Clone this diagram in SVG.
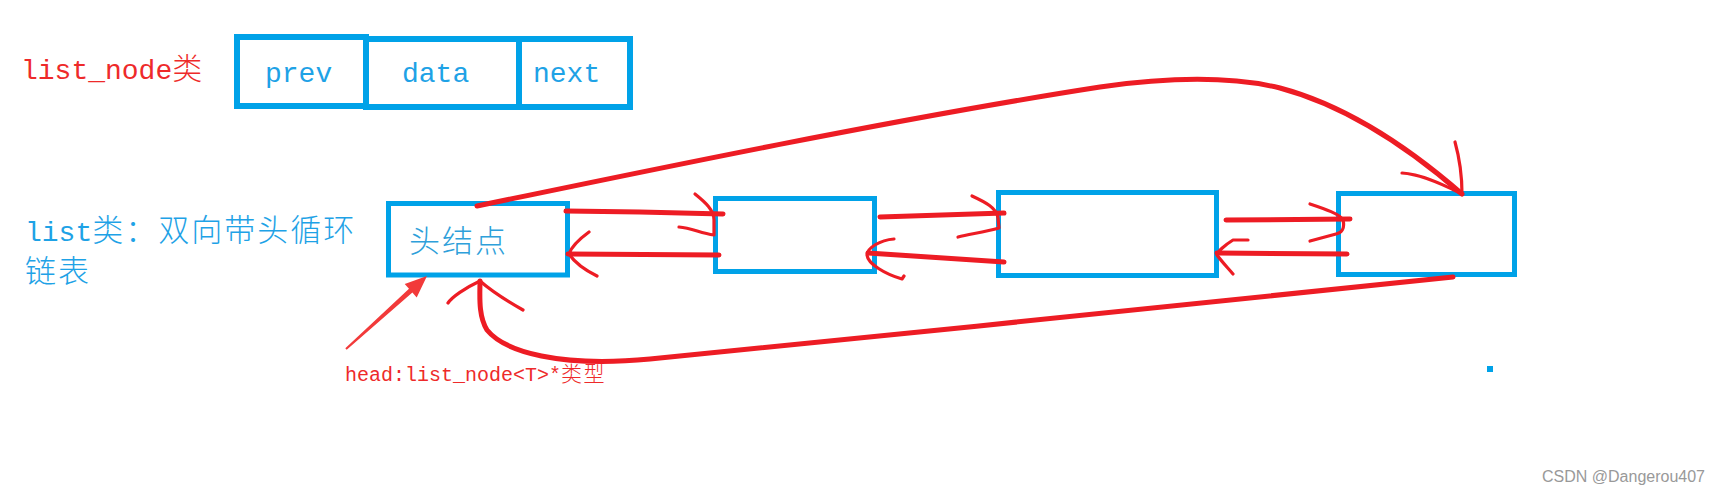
<svg xmlns="http://www.w3.org/2000/svg" width="1719" height="495" viewBox="0 0 1719 495">
<style>
.box{fill:none;stroke:#00A2E8;stroke-width:5}
.cell{fill:none;stroke:#00A2E8;stroke-width:6}
.ln{fill:none;stroke:#ED1C24;stroke-width:5;stroke-linecap:round;stroke-linejoin:round}
.barb{fill:none;stroke:#ED1C24;stroke-width:3.2;stroke-linecap:round;stroke-linejoin:round}
.mono{font-family:"Liberation Mono","DejaVu Sans Mono",monospace}
.cjk{font-family:"Noto Sans CJK SC","Noto Sans",sans-serif;font-weight:300}
.red{fill:#EE2A2A}
.blue{fill:#1EA2E6}
.wm{font-family:"Liberation Sans",Arial,sans-serif;font-size:16px;fill:#999999}
</style>
<rect width="1719" height="495" fill="#ffffff"/>

<g id="list_node_label">
<text x="21" y="79" class="red"><tspan class="mono" font-size="28">list_node</tspan><tspan class="cjk" font-size="30">类</tspan></text>
</g>

<g id="list_node_struct">
<rect class="cell" x="237" y="37" width="129" height="69"/>
<rect class="cell" x="366" y="39" width="264" height="68"/>
<line class="cell" x1="519" y1="39" x2="519" y2="107"/>
<text class="mono blue" font-size="28" x="265" y="82">prev</text>
<text class="mono blue" font-size="28" x="402" y="82">data</text>
<text class="mono blue" font-size="28" x="533" y="82">next</text>
</g>

<g id="list_label">
<text x="25" y="241" class="blue"><tspan class="mono" font-size="28">list</tspan><tspan class="cjk" font-size="31" letter-spacing="2">类：双向带头循环</tspan></text>
<text x="25" y="282" class="blue cjk" font-size="31" letter-spacing="2">链表</text>
</g>

<g id="head_node">
<rect class="box" x="388.5" y="203.5" width="179" height="71.5"/>
<text x="409" y="252" class="cjk" font-size="31" letter-spacing="2" fill="#2E9FDA">头结点</text>
</g>

<g id="node2">
<rect class="box" x="715.5" y="198.5" width="159" height="73"/>
</g>

<g id="node3">
<rect class="box" x="998.5" y="192.5" width="218" height="83"/>
</g>

<g id="node4">
<rect class="box" x="1338.5" y="193.5" width="176" height="81"/>
</g>

<g id="head_pointer">
<polygon fill="#F23A3A" points="345.3,348.3 409,288.8 404.7,284 427,276 416.7,297.4 412.4,292.6 346.7,349.7"/>
<text x="345" y="381" class="red"><tspan class="mono" font-size="20">head:list_node&lt;T&gt;*</tspan><tspan class="cjk" font-size="21" letter-spacing="1.5">类型</tspan></text>
</g>

<g id="connectors">
<!-- head <-> node2 -->
<path class="ln" d="M566 211 L640 212 L723 214"/>
<path class="barb" d="M695 194 C705 202 714 210 714 220 L714 235 M679 227 C692 228 700 233 714 235"/>
<path class="ln" d="M719 255 L568 254"/>
<path class="barb" d="M589 232 C578 240 571 248 569 254 C575 263 585 270 597 276"/>
<!-- node2 <-> node3 -->
<path class="ln" d="M880 217 L1004 213"/>
<path class="barb" d="M972 196 C985 202 997 208 998 218 L999 228 C985 232 970 234 958 237"/>
<path class="ln" d="M1004 262 L868 253"/>
<path class="barb" d="M894 239 C880 240 867 248 867 255 C868 264 885 274 902 279 L904 276"/>
<!-- node3 <-> node4 -->
<path class="ln" d="M1226 220 L1350 219"/>
<path class="barb" d="M1310 204 C1325 209 1340 214 1343 220 C1345 228 1342 233 1336 234 L1310 241"/>
<path class="ln" d="M1347 254 L1217 253"/>
<path class="barb" d="M1248 240 L1233 240 C1225 245 1217 252 1217 255 C1222 262 1228 268 1233 274"/>
<!-- head -> tail (top arc) -->
<path class="ln" d="M477 206 C650 170 900 118 1100 87 C1170 77 1230 76 1280 88 C1340 104 1400 140 1462 194"/>
<path class="barb" stroke-width="3.5" d="M1455 142 C1460 160 1462 175 1462 194 M1402 173 C1420 174 1440 183 1460 193"/>
<!-- tail -> head (bottom arc) -->
<path class="ln" d="M1453 277 C1300 292 900 335 650 359 C560 367.6 505 352 487 330 C478 315 480 295 480 281"/>
<path class="barb" stroke-width="3.5" d="M448 303 C452 297 465 288 480 281 C488 288 500 297 523 310"/>
</g>

<rect x="1487" y="366" width="6" height="6" fill="#00A2E8"/>
<text class="wm" x="1542" y="482">CSDN @Dangerou407</text>
</svg>
